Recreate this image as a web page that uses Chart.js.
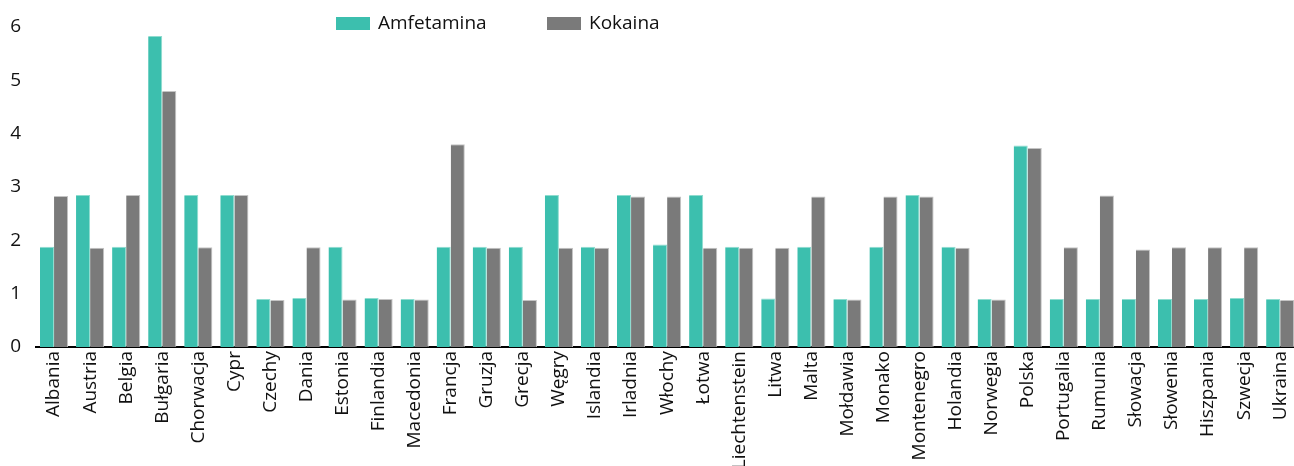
<!DOCTYPE html>
<html>
<head>
<meta charset="utf-8">
<script src="https://cdn.jsdelivr.net/npm/chart.js@4/dist/chart.umd.min.js"></script>
<style>
  html, body { margin: 0; padding: 0; background: #fff; overflow: hidden; }
  #wrap { position: relative; width: 1307px; height: 466px; }
  #legend { position: absolute; top: 9px; left: 336px; font: 19px "Open Sans", sans-serif; color: #111; }
  #legend span.item { position: absolute; white-space: nowrap; }
  #legend span.box { display: inline-block; width: 34px; height: 13px; vertical-align: -1px; margin-right: 8px; }
</style>
</head>
<body>
<div id="wrap">
  <canvas id="myBarChart" width="1307" height="466"></canvas>
  <div id="legend">
    <span class="item" style="left:0"><span class="box" style="background:#3cbfae"></span>Amfetamina</span>
    <span class="item" style="left:211px"><span class="box" style="background:#7a7a7a"></span>Kokaina</span>
  </div>
</div>
<script>
var kraje = ['Albania', 'Austria', 'Belgia', 'Bułgaria', 'Chorwacja', 'Cypr', 'Czechy', 'Dania', 'Estonia',
    'Finlandia', 'Macedonia', 'Francja', 'Gruzja', 'Grecja', 'Węgry', 'Islandia', 'Irladnia', 'Włochy',
    'Łotwa', 'Liechtenstein', 'Litwa', 'Malta', 'Mołdawia', 'Monako', 'Montenegro', 'Holandia', 'Norwegia',
    'Polska', 'Portugalia', 'Rumunia', 'Słowacja', 'Słowenia', 'Hiszpania', 'Szwecja', 'Ukraina'];

var amfetamina = [1.88, 2.85, 1.88, 5.83, 2.85, 2.85, 0.9, 0.92, 1.88,
    0.92, 0.9, 1.88, 1.88, 1.88, 2.85, 1.88, 2.85, 1.92,
    2.85, 1.88, 0.91, 1.88, 0.9, 1.88, 2.85, 1.88, 0.9,
    3.78, 0.9, 0.9, 0.9, 0.9, 0.9, 0.92, 0.9];

var kokaina = [2.83, 1.86, 2.85, 4.8, 1.87, 2.85, 0.88, 1.87, 0.89,
    0.9, 0.89, 3.8, 1.86, 0.88, 1.86, 1.86, 2.82, 2.82,
    1.86, 1.86, 1.86, 2.82, 0.89, 2.82, 2.82, 1.86, 0.89,
    3.73, 1.87, 2.84, 1.83, 1.87, 1.87, 1.87, 0.88];

var yTicks = [0, 1, 2, 3, 4, 5, 6];

var ctx = document.getElementById('myBarChart').getContext('2d');
var myChart = new Chart(ctx, {
    type: 'bar',
    data: {
        labels: kraje,
        datasets: [{
            label: 'Amfetamina',
            data: amfetamina,
            backgroundColor: '#3cbfae',
            borderColor: '#8fdccf',
            borderWidth: { top: 1, right: 1, left: 0, bottom: 0 }
        }, {
            label: 'Kokaina',
            data: kokaina,
            backgroundColor: '#7a7a7a',
            borderColor: '#c4c4c4',
            borderWidth: { top: 1, right: 1, left: 0, bottom: 0 }
        }]
    },
    options: {
        responsive: false,
        animation: false,
        layout: { padding: { top: 27, right: 1, left: 0, bottom: 0 } },
        datasets: { bar: { categoryPercentage: 0.78, barPercentage: 1 } },
        plugins: {
            legend: { display: false },
            tooltip: { enabled: false }
        },
        scales: {
            x: {
                grid: { display: false, drawTicks: false },
                border: { display: true, color: '#000', width: 2 },
                ticks: {
                    color: '#111',
                    font: { family: 'Open Sans', size: 19 },
                    maxRotation: 90,
                    minRotation: 90,
                    padding: 4,
                    autoSkip: false
                },
                afterFit: function(scale) { scale.height = 119; }
            },
            y: {
                min: 0,
                max: 6,
                grid: { display: false, drawTicks: false },
                border: { display: false },
                afterBuildTicks: function(scale) {
                    scale.ticks = yTicks.map(function(v) { return { value: v }; });
                },
                ticks: {
                    color: '#111',
                    font: { family: 'Open Sans', size: 19 },
                    padding: 15
                },
                afterFit: function(scale) { scale.width = 36; }
            }
        }
    }
});
</script>
</body>
</html>
